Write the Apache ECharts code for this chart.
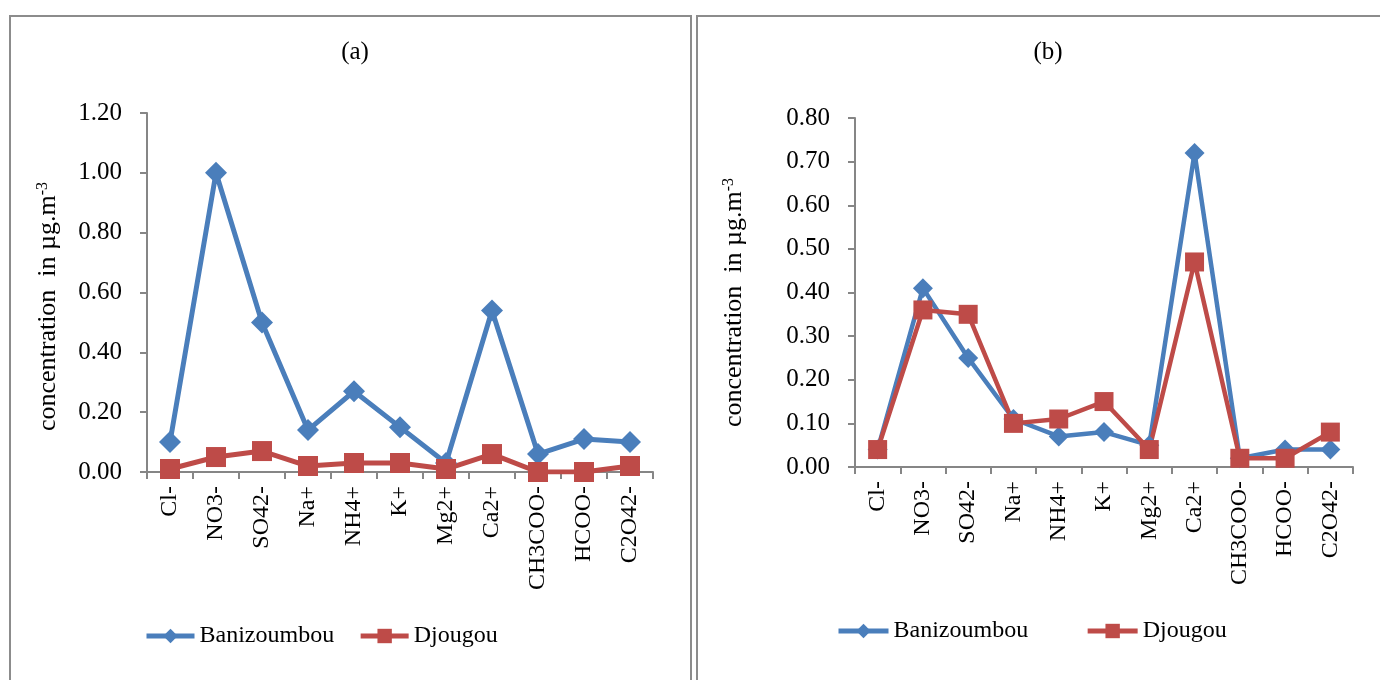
<!DOCTYPE html>
<html>
<head>
<meta charset="utf-8">
<script src="https://cdn.jsdelivr.net/npm/echarts@6/dist/echarts.min.js"></script>
<style>
  html, body { margin: 0; padding: 0; background: #fff; }
  #main { width: 1380px; height: 680px; }
</style>
</head>
<body>
<div id="main"></div>
<script>
// ions on the x axis (same for both panels)
var ions = ['Cl-', 'NO3-', 'SO42-', 'Na+', 'NH4+', 'K+', 'Mg2+', 'Ca2+', 'CH3COO-', 'HCOO-', 'C2O42-'];

// panel (a)
var banizoumbouA = [0.10, 1.00, 0.50, 0.14, 0.27, 0.15, 0.03, 0.54, 0.06, 0.11, 0.10];
var djougouA     = [0.01, 0.05, 0.07, 0.02, 0.03, 0.03, 0.01, 0.06, 0.00, 0.00, 0.02];
// panel (b)
var banizoumbouB = [0.04, 0.41, 0.25, 0.11, 0.07, 0.08, 0.05, 0.72, 0.02, 0.04, 0.04];
var djougouB     = [0.04, 0.36, 0.35, 0.10, 0.11, 0.15, 0.04, 0.47, 0.02, 0.02, 0.08];

var yTicksA = { min: 0, max: 1.2, interval: 0.2 };
var yTicksB = { min: 0, max: 0.8, interval: 0.1 };

var blue = '#4a7ebb';
var red = '#be4b48';
var axisGray = '#868686';
var font = '"Liberation Serif", "Times New Roman", serif';

var chart = echarts.init(document.getElementById('main'));

function xAxisFor(idx) {
    return {
        type: 'category',
        gridIndex: idx,
        data: ions,
        axisLine: { lineStyle: { color: axisGray, width: 2 } },
        axisTick: { show: true, length: 7, lineStyle: { color: axisGray, width: 2 } },
        axisLabel: {
            rotate: 90,
            margin: 14,
            color: '#000',
            fontFamily: font,
            fontSize: 24
        },
        splitLine: { show: false }
    };
}

function yAxisFor(idx, ticks, gap, shift) {
    return {
        type: 'value',
        gridIndex: idx,
        min: ticks.min,
        max: ticks.max,
        interval: ticks.interval,
        name: '{a|concentration  in µg.m}{s|-3}',
        nameLocation: 'middle',
        nameRotate: 90,
        nameGap: gap,
        nameTextStyle: {
            padding: [0, shift, 0, 0],
            rich: {
                a: { fontFamily: font, fontSize: 26, color: '#000' },
                s: { fontFamily: font, fontSize: 16, color: '#000', verticalAlign: 'top' }
            }
        },
        axisLine: { show: true, lineStyle: { color: axisGray, width: 2 } },
        axisTick: { show: true, length: 7, lineStyle: { color: axisGray, width: 2 } },
        axisLabel: {
            margin: 25,
            color: '#000',
            fontFamily: font,
            fontSize: 25,
            formatter: function (v) { return v.toFixed(2); }
        },
        splitLine: { show: false }
    };
}

function lineSeries(name, data, idx, color, symbol, size, width) {
    return {
        name: name,
        type: 'line',
        xAxisIndex: idx,
        yAxisIndex: idx,
        data: data,
        symbol: symbol,
        symbolSize: size,
        itemStyle: { color: color },
        lineStyle: { color: color, width: width },
        animation: false
    };
}

function legendFor(left, top, gap, width) {
    return {
        left: left, top: top,
        itemWidth: width, itemHeight: 18, itemGap: gap,
        data: ['Banizoumbou', 'Djougou'],
        lineStyle: { width: 5 },
        textStyle: { fontFamily: font, fontSize: 24, color: '#000' }
    };
}

chart.setOption({
    backgroundColor: '#fff',
    animation: false,
    title: [
        { text: '(a)', left: 350, top: 35, textAlign: 'center',
          textStyle: { fontFamily: font, fontSize: 25, fontWeight: 'normal', color: '#000' } },
        { text: '(b)', left: 1043, top: 35, textAlign: 'center',
          textStyle: { fontFamily: font, fontSize: 25, fontWeight: 'normal', color: '#000' } }
    ],
    graphic: [
        { type: 'rect', shape: { x: 10, y: 16, width: 681, height: 700 },
          style: { fill: 'none', stroke: '#8c8c8c', lineWidth: 2 }, silent: true },
        { type: 'rect', shape: { x: 697, y: 16, width: 700, height: 700 },
          style: { fill: 'none', stroke: '#8c8c8c', lineWidth: 2 }, silent: true }
    ],
    legend: [
        legendFor(139, 619, 24, 48),
        legendFor(831, 614, 57, 50)
    ],
    grid: [
        { left: 147, top: 113, width: 506, height: 359 },
        { left: 855, top: 118, width: 498, height: 349 }
    ],
    xAxis: [xAxisFor(0), xAxisFor(1)],
    yAxis: [yAxisFor(0, yTicksA, 86, 28), yAxisFor(1, yTicksB, 108, 20)],
    series: [
        lineSeries('Banizoumbou', banizoumbouA, 0, blue, 'diamond', 22, 5),
        lineSeries('Djougou', djougouA, 0, red, 'rect', 20, 5),
        lineSeries('Banizoumbou', banizoumbouB, 1, blue, 'diamond', 20, 4.5),
        lineSeries('Djougou', djougouB, 1, red, 'rect', 19, 4.5)
    ]
});
</script>
</body>
</html>
